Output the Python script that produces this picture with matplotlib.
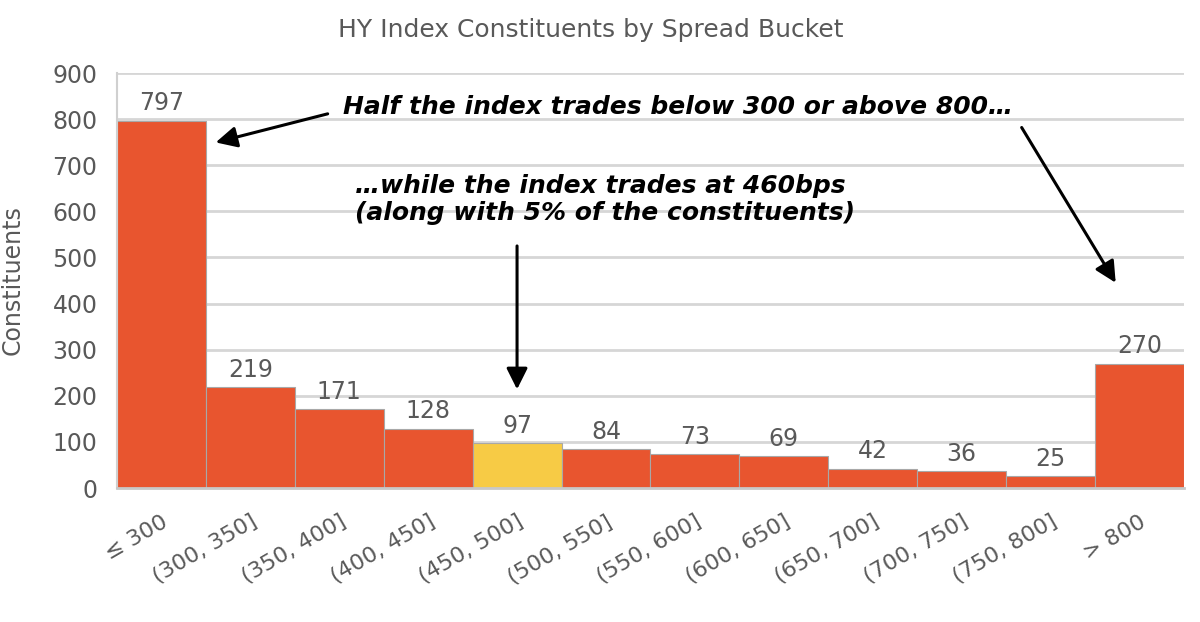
import matplotlib.pyplot as plt
from matplotlib.transforms import ScaledTranslation

buckets = ['≤ 300', '(300, 350]', '(350, 400]', '(400, 450]', '(450, 500]',
           '(500, 550]', '(550, 600]', '(600, 650]', '(650, 700]',
           '(700, 750]', '(750, 800]', '> 800']
counts = [797, 219, 171, 128, 97, 84, 73, 69, 42, 36, 25, 270]
highlight = '(450, 500]'

orange = '#E8552F'
yellow = '#F7CB45'
grey_txt = '#595959'

plt.rcParams['font.family'] = ['DejaVu Sans']

fig = plt.figure(figsize=(12, 6.22), dpi=100)
ax = fig.add_axes([0.0975, 0.2154, 0.889, 0.6672])

colors = [yellow if b == highlight else orange for b in buckets]
x = list(range(len(buckets)))
ax.bar(x, counts, width=1.0, color=colors, edgecolor='#a8a8a8',
       linewidth=0.8, zorder=2)

for xi, v in zip(x, counts):
    ax.text(xi, v + 12, str(v), ha='center', va='bottom', fontsize=17,
            color=grey_txt, zorder=3)

ax.set_xlim(-0.5, len(buckets) - 0.5)
ax.set_ylim(0, 900)
ax.set_yticks(range(0, 901, 100))
ax.yaxis.grid(True, color='#d6d6d6', linewidth=2, zorder=0)
ax.set_axisbelow(True)
ax.set_xticks(x)
ax.set_xticklabels(buckets, rotation=30, ha='right', rotation_mode='anchor',
                   fontsize=16, color=grey_txt)
shift = ScaledTranslation(-20 / 100, 0, fig.dpi_scale_trans)
for lab in ax.get_xticklabels():
    lab.set_transform(lab.get_transform() + shift)
ax.tick_params(axis='y', labelsize=17, labelcolor=grey_txt, length=0, pad=14)
ax.tick_params(axis='x', length=0, pad=17)
for s in ['top', 'right']:
    ax.spines[s].set_visible(False)
ax.spines['left'].set_color('#d0d0d0')
ax.spines['left'].set_linewidth(1.5)
ax.spines['bottom'].set_color('#c8c8c8')
ax.spines['bottom'].set_linewidth(2)
ax.set_ylabel('Constituents', fontsize=17, color=grey_txt, labelpad=20)

fig.text(0.492, 0.952, 'HY Index Constituents by Spread Bucket',
         ha='center', va='center', fontsize=18, color=grey_txt)

note = dict(fontsize=18, fontweight='bold', style='italic', color='black')
arrow = dict(arrowstyle='-|>', color='black', lw=2.2, mutation_scale=32)

ax.text(2.04, 827, 'Half the index trades below 300 or above 800…',
        ha='left', va='center', zorder=4, **note)
ax.text(2.18, 625, '…while the index trades at 460bps\n(along with 5% of the constituents)',
        ha='left', va='center', linespacing=1.15, zorder=4, **note)

ax.annotate('', xy=(0.58, 748), xytext=(1.9, 813), arrowprops=arrow, zorder=4)
ax.annotate('', xy=(10.75, 440), xytext=(9.66, 787), arrowprops=arrow, zorder=4)
ax.annotate('', xy=(4.0, 208), xytext=(4.0, 531), arrowprops=arrow, zorder=4)

fig.savefig('out.png', dpi=100)
